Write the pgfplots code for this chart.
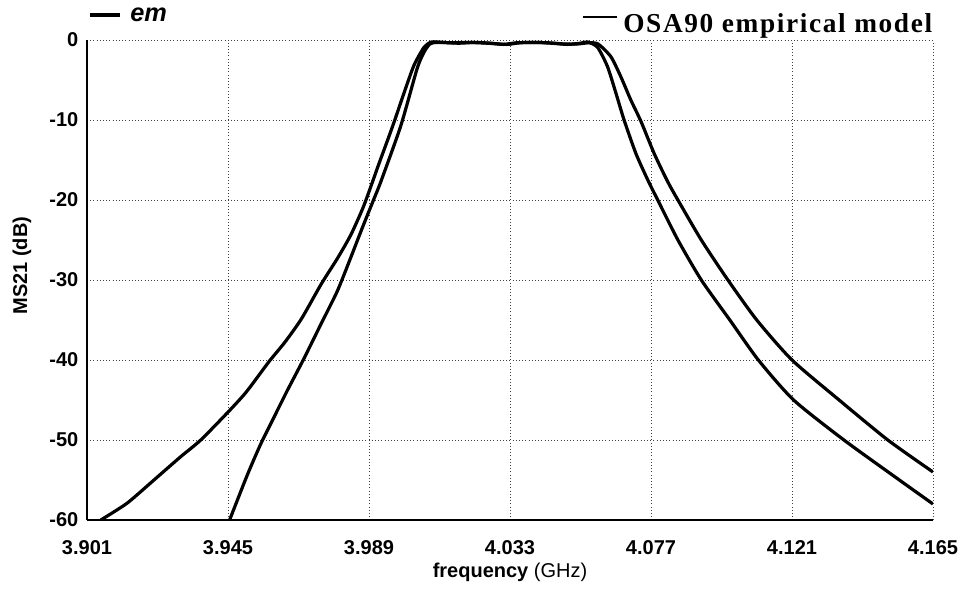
\documentclass[border=0pt]{standalone}
\usepackage{fontspec}
\setmainfont{Liberation Sans}
\newfontfamily\timesf[LetterSpace=6]{Liberation Serif}
\usepackage{pgfplots}
\pgfplotsset{compat=1.18}
\begin{document}
\begin{tikzpicture}
\useasboundingbox (-65.25pt,-52.5pt) rectangle (655.5pt,390pt);
\begin{axis}[
  at={(0,0)}, anchor=south west,
  scale only axis, width=634.5pt, height=360pt,
  xmin=3.901, xmax=4.165, ymin=-60, ymax=0,
  axis x line*=bottom, axis y line*=left,
  axis line style={black, line width=0.8pt, -},
  xtick={3.901,3.945,3.989,4.033,4.077,4.121,4.165},
  xticklabels={3.901,3.945,3.989,4.033,4.077,4.121,4.165},
  ytick={-60,-50,-40,-30,-20,-10,0},
  yticklabels={-60,-50,-40,-30,-20,-10,0},
  major tick length=0pt,
  grid=major,
  grid style={dotted, black!75, line width=0.7pt},
  ticklabel style={font=\bfseries\fontsize{15}{17}\selectfont},
  xticklabel style={anchor=center, yshift=-21pt},
  yticklabel style={anchor=east, xshift=-3pt},
  xlabel={\textbf{frequency} (GHz)},
  xlabel style={font=\fontsize{15}{17}\selectfont, at={(axis description cs:0.5,-0.108)}, anchor=center},
  ylabel={\textbf{MS21 (dB)}},
  ylabel style={font=\fontsize{15}{17}\selectfont, at={(axis description cs:-0.077,0.53)}, anchor=center},
]
% wider curve
\addplot[black, line width=2.4pt, smooth, tension=0.4, line join=round] coordinates {
(3.9053,-60) (3.9135,-57.9) (3.9219,-55.0) (3.9302,-52.1) (3.9365,-50.0)
(3.9448,-46.6) (3.9507,-44.0) (3.9578,-40.2) (3.9629,-37.7) (3.9680,-34.8)
(3.9741,-30.5) (3.9793,-27.2) (3.9834,-24.3) (3.9872,-20.9) (3.9903,-17.5)
(3.9918,-15.8) (3.9964,-10.75) (3.9996,-7.0) (4.0030,-3.2) (4.0062,-0.9)
(4.0085,-0.25) (4.0120,-0.3) (4.0170,-0.4) (4.0220,-0.3) (4.0270,-0.4)
(4.0310,-0.55) (4.0350,-0.35) (4.0400,-0.3) (4.0450,-0.35) (4.0500,-0.5)
(4.0540,-0.5) (4.0575,-0.35) (4.0605,-0.5) (4.0645,-2.1) (4.0676,-4.6)
(4.0707,-7.5) (4.0739,-10.2) (4.0780,-14.2) (4.0822,-17.7) (4.0854,-20)
(4.0927,-25) (4.1010,-30) (4.1100,-35) (4.1210,-40) (4.1357,-45)
(4.1509,-50) (4.1650,-54)
};
% narrower curve
\addplot[black, line width=2.4pt, smooth, tension=0.4, line join=round] coordinates {
(3.9455,-60) (3.9510,-54.4) (3.9551,-50.6) (3.9588,-47.6) (3.9634,-43.9)
(3.9686,-39.9) (3.9739,-35.6) (3.9791,-31.4) (3.9833,-27.2) (3.9866,-23.8)
(3.9903,-20.1) (3.9927,-17.7) (3.9989,-10.75) (4.0040,-3.6) (4.0062,-1.5)
(4.0080,-0.5) (4.0100,-0.3) (4.0150,-0.35) (4.0200,-0.3) (4.0260,-0.4)
(4.0320,-0.55) (4.0360,-0.35) (4.0410,-0.3) (4.0460,-0.4) (4.0510,-0.55)
(4.0550,-0.4) (4.0572,-0.25) (4.0603,-0.9) (4.0634,-3.3) (4.0661,-6.7)
(4.0686,-10) (4.0723,-14.2) (4.0760,-17.5) (4.0791,-20) (4.0854,-25)
(4.0927,-30) (4.1016,-35) (4.1105,-40) (4.1215,-45) (4.1372,-50)
(4.1545,-55) (4.1650,-58)
};
\end{axis}
% legend entries
\draw[black, line width=2.4pt] (2.25pt,378.75pt) -- (24.75pt,378.75pt);
\node[anchor=base west, inner sep=0pt, font=\bfseries\itshape\fontsize{19}{21}\selectfont] at (32.25pt,373.5pt) {em};
\draw[black, line width=1.8pt] (372pt,377.25pt) -- (397.5pt,377.25pt);
\node[anchor=base west, inner sep=0pt, font=\timesf\bfseries\fontsize{20.5}{22}\selectfont] at (402pt,365.25pt) {OSA90 empirical model};
\end{tikzpicture}
\end{document}
